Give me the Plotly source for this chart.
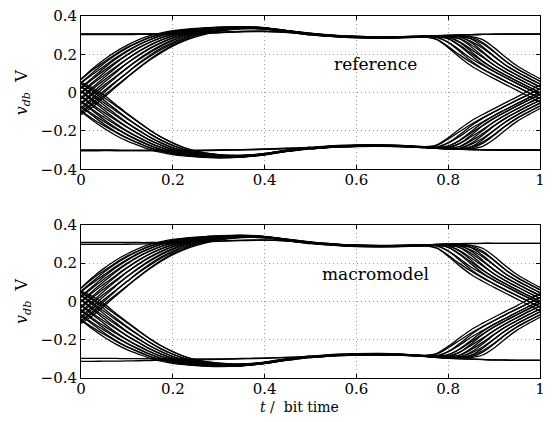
import plotly.graph_objects as go

# time grids (fraction of bit time)
T_LEFT = [0, 0.025, 0.05, 0.075, 0.1, 0.125, 0.15, 0.175, 0.2, 0.225, 0.25, 0.3, 0.35, 0.4, 0.45, 0.5]
T_RIGHT = [0.5, 0.55, 0.6, 0.65, 0.7, 0.75, 0.775, 0.8, 0.825, 0.85, 0.875, 0.9, 0.925, 0.95, 0.975, 1.0]

# rising edges in the first half of the bit (V)
RISE_LEFT = [
    [0.070, 0.125, 0.172, 0.213, 0.247, 0.275, 0.297, 0.312, 0.323, 0.330, 0.335, 0.342, 0.345, 0.339, 0.324, 0.310],
    [0.068, 0.118, 0.160, 0.200, 0.236, 0.264, 0.288, 0.305, 0.318, 0.327, 0.333, 0.340, 0.343, 0.337, 0.322, 0.306],
    [0.053, 0.103, 0.152, 0.195, 0.232, 0.262, 0.287, 0.305, 0.318, 0.327, 0.333, 0.341, 0.344, 0.338, 0.323, 0.308],
    [0.050, 0.095, 0.138, 0.180, 0.218, 0.250, 0.276, 0.297, 0.312, 0.323, 0.330, 0.339, 0.342, 0.336, 0.321, 0.306],
    [0.027, 0.078, 0.128, 0.174, 0.214, 0.248, 0.275, 0.297, 0.312, 0.323, 0.330, 0.339, 0.342, 0.336, 0.319, 0.303],
    [0.022, 0.070, 0.115, 0.158, 0.198, 0.234, 0.263, 0.287, 0.304, 0.317, 0.326, 0.337, 0.341, 0.336, 0.321, 0.306],
    [0.000, 0.053, 0.103, 0.152, 0.195, 0.232, 0.262, 0.287, 0.305, 0.318, 0.327, 0.337, 0.341, 0.337, 0.323, 0.309],
    [-0.005, 0.045, 0.090, 0.134, 0.176, 0.214, 0.247, 0.274, 0.295, 0.311, 0.322, 0.335, 0.340, 0.335, 0.321, 0.306],
    [-0.027, 0.027, 0.078, 0.128, 0.174, 0.214, 0.248, 0.275, 0.297, 0.312, 0.323, 0.335, 0.340, 0.334, 0.318, 0.302],
    [-0.035, 0.018, 0.065, 0.110, 0.153, 0.193, 0.229, 0.259, 0.284, 0.303, 0.316, 0.332, 0.339, 0.335, 0.320, 0.305],
    [-0.053, 0.000, 0.053, 0.103, 0.152, 0.195, 0.232, 0.262, 0.287, 0.305, 0.318, 0.333, 0.339, 0.336, 0.322, 0.308],
    [-0.062, -0.010, 0.038, 0.083, 0.128, 0.170, 0.209, 0.243, 0.271, 0.293, 0.309, 0.329, 0.337, 0.334, 0.320, 0.305],
    [-0.079, -0.027, 0.027, 0.078, 0.128, 0.174, 0.214, 0.248, 0.275, 0.297, 0.312, 0.330, 0.337, 0.333, 0.317, 0.301],
    [-0.088, -0.038, 0.010, 0.057, 0.103, 0.148, 0.189, 0.225, 0.256, 0.281, 0.300, 0.325, 0.335, 0.333, 0.319, 0.305],
    [-0.100, -0.053, 0.000, 0.053, 0.103, 0.152, 0.195, 0.232, 0.262, 0.287, 0.305, 0.327, 0.336, 0.334, 0.321, 0.307],
    [-0.108, -0.062, -0.015, 0.033, 0.080, 0.126, 0.170, 0.209, 0.243, 0.270, 0.291, 0.320, 0.333, 0.332, 0.319, 0.305],
    [-0.115, -0.075, -0.025, 0.027, 0.078, 0.128, 0.174, 0.214, 0.248, 0.275, 0.297, 0.323, 0.334, 0.331, 0.316, 0.300],
]

# falling edges in the first half of the bit (V)
FALL_LEFT = [
    [-0.098, -0.144, -0.186, -0.222, -0.252, -0.275, -0.297, -0.312, -0.323, -0.330, -0.335, -0.340, -0.336, -0.323, -0.304, -0.290],
    [-0.095, -0.136, -0.172, -0.206, -0.238, -0.264, -0.288, -0.305, -0.318, -0.327, -0.333, -0.339, -0.335, -0.323, -0.304, -0.290],
    [-0.073, -0.119, -0.164, -0.203, -0.236, -0.262, -0.287, -0.305, -0.318, -0.327, -0.333, -0.339, -0.336, -0.325, -0.307, -0.293],
    [-0.070, -0.112, -0.150, -0.187, -0.220, -0.250, -0.276, -0.297, -0.312, -0.323, -0.330, -0.337, -0.335, -0.322, -0.303, -0.290],
    [-0.047, -0.094, -0.140, -0.182, -0.218, -0.248, -0.275, -0.297, -0.312, -0.323, -0.330, -0.337, -0.334, -0.320, -0.300, -0.286],
    [-0.043, -0.088, -0.128, -0.166, -0.202, -0.234, -0.263, -0.287, -0.305, -0.318, -0.327, -0.335, -0.334, -0.322, -0.303, -0.289],
    [-0.020, -0.069, -0.115, -0.160, -0.199, -0.232, -0.262, -0.287, -0.305, -0.318, -0.327, -0.335, -0.335, -0.324, -0.306, -0.292],
    [-0.016, -0.062, -0.103, -0.142, -0.180, -0.215, -0.248, -0.275, -0.297, -0.312, -0.323, -0.333, -0.333, -0.321, -0.303, -0.289],
    [0.007, -0.043, -0.090, -0.136, -0.178, -0.214, -0.248, -0.275, -0.297, -0.312, -0.323, -0.333, -0.332, -0.319, -0.300, -0.286],
    [0.010, -0.035, -0.078, -0.119, -0.160, -0.197, -0.233, -0.263, -0.288, -0.305, -0.318, -0.330, -0.331, -0.320, -0.302, -0.289],
    [0.030, -0.016, -0.065, -0.111, -0.156, -0.195, -0.232, -0.262, -0.287, -0.305, -0.318, -0.330, -0.332, -0.322, -0.305, -0.291],
    [0.033, -0.008, -0.052, -0.094, -0.136, -0.176, -0.215, -0.249, -0.276, -0.297, -0.312, -0.327, -0.329, -0.319, -0.302, -0.288],
    [0.045, 0.008, -0.039, -0.086, -0.132, -0.174, -0.214, -0.248, -0.275, -0.297, -0.312, -0.327, -0.328, -0.317, -0.299, -0.285],
    [0.048, 0.015, -0.025, -0.068, -0.111, -0.154, -0.196, -0.233, -0.263, -0.288, -0.305, -0.323, -0.327, -0.318, -0.301, -0.288],
    [0.055, 0.025, -0.012, -0.061, -0.107, -0.152, -0.195, -0.232, -0.262, -0.287, -0.305, -0.323, -0.328, -0.320, -0.304, -0.290],
]

# falling edges at the end of the bit (V)
FALL_RIGHT = [
    [0.306, 0.297, 0.291, 0.289, 0.290, 0.290, 0.277, 0.235, 0.185, 0.140, 0.105, 0.073, 0.042, 0.012, -0.019, -0.050],
    [0.306, 0.296, 0.290, 0.288, 0.289, 0.290, 0.279, 0.240, 0.197, 0.157, 0.122, 0.090, 0.059, 0.030, 0.000, -0.030],
    [0.310, 0.300, 0.294, 0.292, 0.292, 0.294, 0.290, 0.262, 0.215, 0.165, 0.125, 0.092, 0.060, 0.030, 0.000, -0.031],
    [0.306, 0.296, 0.290, 0.288, 0.289, 0.292, 0.289, 0.264, 0.222, 0.178, 0.143, 0.109, 0.078, 0.047, 0.017, -0.012],
    [0.302, 0.292, 0.286, 0.284, 0.286, 0.290, 0.292, 0.281, 0.244, 0.195, 0.148, 0.111, 0.079, 0.048, 0.018, -0.012],
    [0.305, 0.295, 0.289, 0.287, 0.289, 0.292, 0.292, 0.282, 0.248, 0.204, 0.162, 0.124, 0.091, 0.060, 0.030, 0.000],
    [0.309, 0.299, 0.293, 0.291, 0.292, 0.295, 0.296, 0.290, 0.262, 0.215, 0.165, 0.125, 0.092, 0.060, 0.030, 0.000],
    [0.307, 0.297, 0.291, 0.289, 0.290, 0.293, 0.294, 0.290, 0.265, 0.226, 0.185, 0.143, 0.107, 0.076, 0.045, 0.015],
    [0.303, 0.293, 0.287, 0.285, 0.287, 0.291, 0.293, 0.292, 0.280, 0.240, 0.190, 0.144, 0.108, 0.076, 0.045, 0.015],
    [0.306, 0.296, 0.291, 0.289, 0.290, 0.293, 0.295, 0.293, 0.282, 0.250, 0.208, 0.163, 0.124, 0.091, 0.060, 0.030],
    [0.309, 0.299, 0.293, 0.291, 0.292, 0.295, 0.297, 0.297, 0.291, 0.262, 0.215, 0.165, 0.125, 0.092, 0.060, 0.030],
    [0.306, 0.296, 0.291, 0.289, 0.290, 0.294, 0.296, 0.295, 0.290, 0.268, 0.232, 0.188, 0.143, 0.107, 0.076, 0.045],
    [0.303, 0.294, 0.288, 0.286, 0.288, 0.292, 0.294, 0.296, 0.294, 0.280, 0.240, 0.190, 0.144, 0.108, 0.076, 0.045],
    [0.306, 0.296, 0.290, 0.288, 0.290, 0.294, 0.296, 0.297, 0.294, 0.282, 0.255, 0.212, 0.164, 0.124, 0.091, 0.060],
    [0.308, 0.298, 0.292, 0.290, 0.292, 0.295, 0.297, 0.298, 0.297, 0.290, 0.262, 0.215, 0.165, 0.125, 0.092, 0.060],
    [0.305, 0.295, 0.289, 0.288, 0.290, 0.293, 0.295, 0.297, 0.297, 0.292, 0.277, 0.235, 0.185, 0.140, 0.105, 0.073],
]

# rising edges at the end of the bit (V)
RISE_RIGHT = [
    [-0.290, -0.281, -0.277, -0.276, -0.278, -0.282, -0.272, -0.235, -0.190, -0.148, -0.114, -0.083, -0.052, -0.022, 0.010, 0.040],
    [-0.290, -0.281, -0.277, -0.276, -0.278, -0.283, -0.275, -0.242, -0.203, -0.165, -0.131, -0.100, -0.069, -0.039, -0.010, 0.020],
    [-0.294, -0.285, -0.281, -0.280, -0.282, -0.287, -0.286, -0.262, -0.220, -0.173, -0.134, -0.101, -0.069, -0.039, -0.010, 0.020],
    [-0.290, -0.281, -0.277, -0.276, -0.278, -0.284, -0.283, -0.262, -0.228, -0.187, -0.153, -0.119, -0.088, -0.057, -0.027, 0.002],
    [-0.286, -0.277, -0.273, -0.272, -0.275, -0.282, -0.286, -0.280, -0.248, -0.203, -0.157, -0.120, -0.088, -0.057, -0.027, 0.002],
    [-0.291, -0.282, -0.278, -0.277, -0.279, -0.285, -0.287, -0.278, -0.250, -0.210, -0.171, -0.133, -0.100, -0.069, -0.039, -0.010],
    [-0.293, -0.284, -0.280, -0.279, -0.281, -0.287, -0.291, -0.288, -0.265, -0.222, -0.173, -0.134, -0.101, -0.069, -0.039, -0.010],
    [-0.291, -0.282, -0.278, -0.277, -0.279, -0.285, -0.289, -0.286, -0.266, -0.230, -0.192, -0.152, -0.116, -0.085, -0.054, -0.025],
    [-0.288, -0.279, -0.275, -0.274, -0.277, -0.284, -0.288, -0.290, -0.281, -0.245, -0.198, -0.153, -0.117, -0.085, -0.054, -0.025],
    [-0.290, -0.281, -0.277, -0.276, -0.278, -0.285, -0.289, -0.290, -0.281, -0.252, -0.214, -0.172, -0.133, -0.100, -0.069, -0.040],
    [-0.293, -0.284, -0.280, -0.279, -0.281, -0.287, -0.291, -0.294, -0.291, -0.265, -0.222, -0.174, -0.134, -0.101, -0.069, -0.040],
    [-0.290, -0.281, -0.277, -0.276, -0.278, -0.285, -0.289, -0.292, -0.289, -0.270, -0.238, -0.196, -0.152, -0.116, -0.085, -0.055],
    [-0.287, -0.278, -0.274, -0.273, -0.276, -0.284, -0.288, -0.291, -0.292, -0.281, -0.245, -0.198, -0.153, -0.117, -0.085, -0.055],
    [-0.290, -0.281, -0.277, -0.276, -0.278, -0.285, -0.289, -0.292, -0.293, -0.283, -0.258, -0.219, -0.173, -0.133, -0.100, -0.070],
    [-0.292, -0.283, -0.279, -0.278, -0.280, -0.286, -0.290, -0.294, -0.296, -0.290, -0.265, -0.222, -0.174, -0.134, -0.101, -0.070],
    [-0.289, -0.280, -0.276, -0.275, -0.278, -0.285, -0.289, -0.292, -0.295, -0.293, -0.280, -0.243, -0.195, -0.150, -0.115, -0.083],
]

# steady levels, reference simulation
HIGH_LEFT_REF = [
    [0.305, 0.305, 0.305, 0.305, 0.305, 0.305, 0.306, 0.306, 0.307, 0.308, 0.309, 0.314, 0.319, 0.321, 0.316, 0.306],
    [0.307, 0.307, 0.307, 0.306, 0.306, 0.306, 0.306, 0.307, 0.308, 0.309, 0.311, 0.316, 0.320, 0.320, 0.314, 0.305],
    [0.303, 0.303, 0.303, 0.303, 0.303, 0.304, 0.304, 0.305, 0.306, 0.307, 0.308, 0.312, 0.317, 0.319, 0.315, 0.304],
]
LOW_LEFT_REF = [
    [-0.301, -0.301, -0.301, -0.302, -0.302, -0.302, -0.302, -0.302, -0.302, -0.302, -0.302, -0.300, -0.298, -0.296, -0.292, -0.289],
    [-0.304, -0.304, -0.303, -0.303, -0.303, -0.303, -0.303, -0.303, -0.303, -0.303, -0.303, -0.301, -0.299, -0.296, -0.291, -0.288],
    [-0.299, -0.299, -0.299, -0.299, -0.300, -0.300, -0.300, -0.300, -0.300, -0.300, -0.300, -0.299, -0.297, -0.294, -0.290, -0.286],
]
HIGH_RIGHT_REF = [
    [0.306, 0.296, 0.290, 0.288, 0.290, 0.294, 0.297, 0.299, 0.301, 0.303, 0.304, 0.305, 0.305, 0.305, 0.305, 0.305],
    [0.304, 0.294, 0.288, 0.286, 0.288, 0.292, 0.295, 0.298, 0.300, 0.302, 0.304, 0.305, 0.306, 0.306, 0.306, 0.306],
    [0.309, 0.299, 0.293, 0.291, 0.292, 0.295, 0.298, 0.300, 0.302, 0.303, 0.304, 0.304, 0.304, 0.304, 0.304, 0.304],
]
LOW_RIGHT_REF = [
    [-0.290, -0.281, -0.277, -0.276, -0.278, -0.285, -0.289, -0.292, -0.295, -0.297, -0.298, -0.299, -0.300, -0.300, -0.300, -0.300],
    [-0.289, -0.279, -0.275, -0.274, -0.277, -0.284, -0.288, -0.292, -0.295, -0.297, -0.299, -0.300, -0.301, -0.301, -0.301, -0.301],
    [-0.293, -0.284, -0.280, -0.279, -0.281, -0.287, -0.291, -0.294, -0.296, -0.297, -0.298, -0.298, -0.298, -0.298, -0.298, -0.298],
]

# steady levels, macromodel
HIGH_LEFT_MAC = [
    [0.307, 0.307, 0.307, 0.307, 0.307, 0.307, 0.307, 0.308, 0.309, 0.310, 0.311, 0.315, 0.319, 0.320, 0.315, 0.306],
    [0.297, 0.297, 0.297, 0.297, 0.298, 0.299, 0.300, 0.302, 0.304, 0.306, 0.308, 0.313, 0.317, 0.319, 0.314, 0.305],
]
LOW_LEFT_MAC = [
    [-0.298, -0.298, -0.298, -0.298, -0.299, -0.299, -0.300, -0.300, -0.301, -0.301, -0.301, -0.300, -0.298, -0.296, -0.292, -0.289],
    [-0.313, -0.313, -0.312, -0.312, -0.311, -0.310, -0.309, -0.308, -0.307, -0.306, -0.305, -0.303, -0.300, -0.297, -0.293, -0.290],
]
HIGH_RIGHT_MAC = [
    [0.305, 0.295, 0.289, 0.287, 0.289, 0.293, 0.296, 0.298, 0.300, 0.301, 0.302, 0.302, 0.302, 0.302, 0.302, 0.302],
    [0.308, 0.298, 0.292, 0.290, 0.291, 0.294, 0.297, 0.299, 0.301, 0.302, 0.303, 0.303, 0.303, 0.303, 0.303, 0.303],
]
LOW_RIGHT_MAC = [
    [-0.290, -0.281, -0.277, -0.276, -0.279, -0.287, -0.292, -0.296, -0.299, -0.301, -0.303, -0.305, -0.306, -0.307, -0.307, -0.307],
    [-0.292, -0.283, -0.279, -0.278, -0.281, -0.288, -0.293, -0.297, -0.300, -0.302, -0.304, -0.306, -0.307, -0.308, -0.308, -0.308],
]

X_TICKS = [0, 0.2, 0.4, 0.6, 0.8, 1]
X_TICKTEXT = ["0", "0.2", "0.4", "0.6", "0.8", "1"]
Y_TICKS = [-0.4, -0.2, 0, 0.2, 0.4]
Y_TICKTEXT = ["\u22120.4", "\u22120.2", "0", "0.2", "0.4"]

FONT = "DejaVu Serif"

fig = go.Figure()


def add_curves(t, curves, xa, ya):
    for y in curves:
        fig.add_trace(go.Scatter(
            x=t, y=y, mode="lines", xaxis=xa, yaxis=ya,
            line=dict(color="black", width=1.3, shape="spline", smoothing=1.0),
            showlegend=False, hoverinfo="skip"))


panels = [
    ("x", "y", HIGH_LEFT_REF, LOW_LEFT_REF, HIGH_RIGHT_REF, LOW_RIGHT_REF),
    ("x2", "y2", HIGH_LEFT_MAC, LOW_LEFT_MAC, HIGH_RIGHT_MAC, LOW_RIGHT_MAC),
]
for xa, ya, hl, ll, hr, lr in panels:
    add_curves(T_LEFT, hl, xa, ya)
    add_curves(T_LEFT, ll, xa, ya)
    add_curves(T_RIGHT, hr, xa, ya)
    add_curves(T_RIGHT, lr, xa, ya)
    add_curves(T_LEFT, RISE_LEFT, xa, ya)
    add_curves(T_LEFT, FALL_LEFT, xa, ya)
    add_curves(T_RIGHT, FALL_RIGHT, xa, ya)
    add_curves(T_RIGHT, RISE_RIGHT, xa, ya)

common = dict(ticks="inside", ticklen=4, tickcolor="black", tickwidth=1,
              showline=True, linecolor="black", linewidth=1, mirror="ticks",
              showgrid=True, gridcolor="#9a9a9a", griddash="1px,3px", gridwidth=1,
              zeroline=False, tickfont=dict(family=FONT, size=15, color="black"))
xcommon = dict(range=[0, 1], tickvals=X_TICKS, ticktext=X_TICKTEXT, ticklabelstandoff=-3, **common)
ycommon = dict(range=[-0.4, 0.4], tickvals=Y_TICKS, ticktext=Y_TICKTEXT, **common)

top_dom = [1 - 155 / 366, 1]
bot_dom = [0, 155 / 366]

fig.update_layout(
    width=552, height=422,
    margin=dict(l=81, r=7, t=12, b=44),
    paper_bgcolor="white", plot_bgcolor="white",
    font=dict(family=FONT, color="black"),
    xaxis=dict(domain=[0, 1], anchor="y", **xcommon),
    yaxis=dict(domain=top_dom, anchor="x", **ycommon),
    xaxis2=dict(domain=[0, 1], anchor="y2", **xcommon),
    yaxis2=dict(domain=bot_dom, anchor="x2", **ycommon),
)

ylabel = "<i>v</i><sub><i>db</i></sub>&nbsp;&nbsp;V"
annotations = [
    dict(text="reference", x=0.642, y=0.152, xref="x", yref="y", showarrow=False,
         font=dict(family=FONT, size=17, color="black")),
    dict(text="macromodel", x=0.641, y=0.142, xref="x2", yref="y2", showarrow=False,
         font=dict(family=FONT, size=17, color="black")),
    dict(text=ylabel, x=-0.127, y=(top_dom[0] + top_dom[1]) / 2, xref="paper", yref="paper",
         textangle=-90, showarrow=False, xanchor="center", yanchor="middle",
         font=dict(family=FONT, size=16, color="black")),
    dict(text=ylabel, x=-0.127, y=(bot_dom[0] + bot_dom[1]) / 2, xref="paper", yref="paper",
         textangle=-90, showarrow=False, xanchor="center", yanchor="middle",
         font=dict(family=FONT, size=16, color="black")),
    dict(text="<i>t</i>&nbsp;/&nbsp;&nbsp;bit time", x=0.477, y=-0.080, xref="paper", yref="paper",
         showarrow=False, xanchor="center", yanchor="middle",
         font=dict(family=FONT, size=14, color="black")),
]
fig.update_layout(annotations=annotations)

fig.write_html("out.html")
